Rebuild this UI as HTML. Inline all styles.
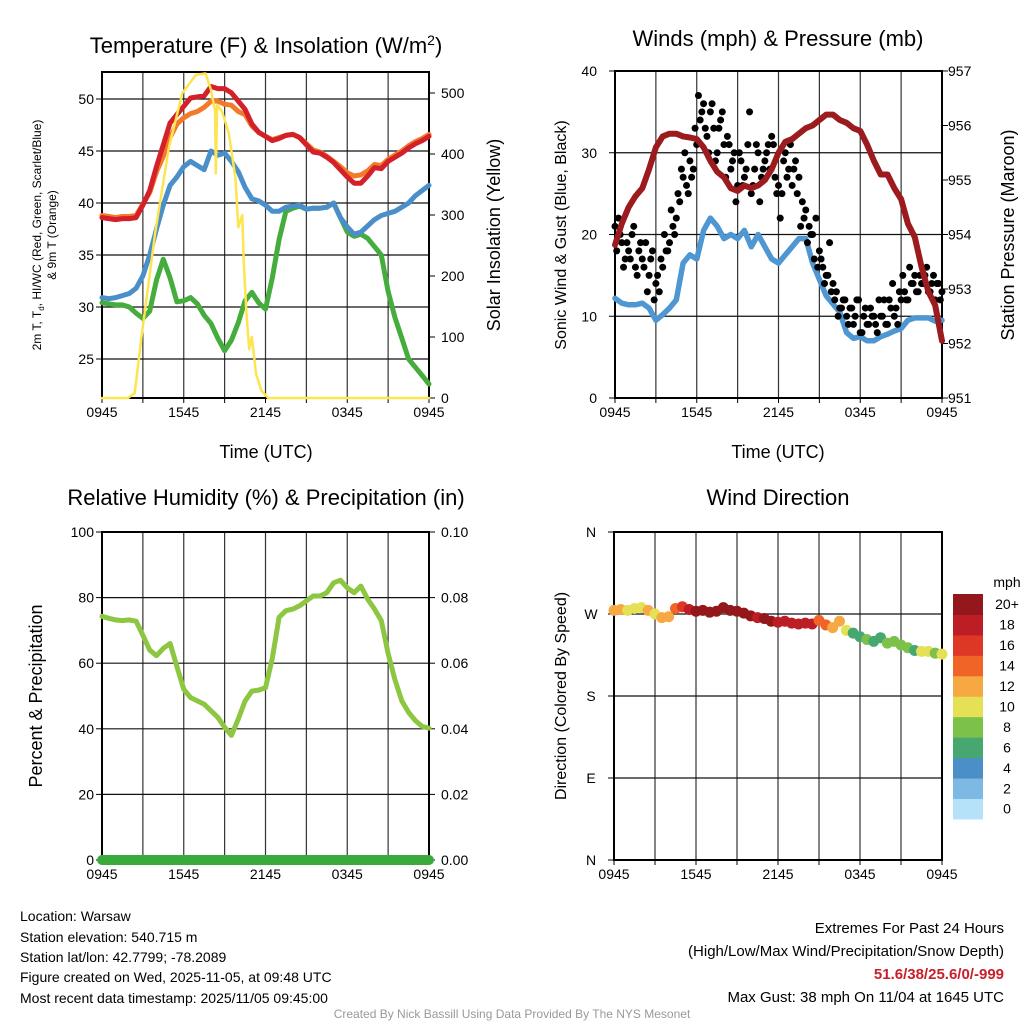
<!DOCTYPE html>
<html><head><meta charset="utf-8"><style>
body{margin:0;background:#fff;}
svg{display:block;font-family:"Liberation Sans",Arial,sans-serif;}
</style></head><body>
<svg id="s" width="1024" height="1024" viewBox="0 0 1024 1024" xmlns="http://www.w3.org/2000/svg">
<rect width="1024" height="1024" fill="#fff"/>
<text x="266" y="53" font-size="22" text-anchor="middle">Temperature (F) &amp; Insolation (W/m<tspan dy="-8" font-size="14">2</tspan><tspan dy="8">)</tspan></text>
<text x="778" y="46" font-size="22" text-anchor="middle">Winds (mph) &amp; Pressure (mb)</text>
<text x="266" y="505" font-size="22" text-anchor="middle">Relative Humidity (%) &amp; Precipitation (in)</text>
<text x="778" y="505" font-size="22" text-anchor="middle">Wind Direction</text>
<text x="266" y="458" font-size="18" text-anchor="middle">Time (UTC)</text>
<text x="778" y="458" font-size="18" text-anchor="middle">Time (UTC)</text>
<text transform="translate(41,235) rotate(-90)" font-size="12" text-anchor="middle">2m T, T<tspan font-size="8" dy="3">d</tspan><tspan dy="-3">, HI/WC (Red, Green, Scarlet/Blue)</tspan></text>
<text transform="translate(56,235) rotate(-90)" font-size="12" text-anchor="middle">&amp; 9m T (Orange)</text>
<text transform="translate(500,235) rotate(-90)" font-size="18" text-anchor="middle">Solar Insolation (Yellow)</text>
<text transform="translate(566,235) rotate(-90)" font-size="16" text-anchor="middle">Sonic Wind &amp; Gust (Blue, Black)</text>
<text transform="translate(1014,235) rotate(-90)" font-size="18" text-anchor="middle">Station Pressure (Maroon)</text>
<text transform="translate(42,696) rotate(-90)" font-size="18" text-anchor="middle">Percent &amp; Precipitation</text>
<text transform="translate(566,696) rotate(-90)" font-size="16" text-anchor="middle">Direction (Colored By Speed)</text>
<g font-size="14">
<text x="20" y="921">Location: Warsaw</text>
<text x="20" y="942">Station elevation: 540.715 m</text>
<text x="20" y="962">Station lat/lon: 42.7799; -78.2089</text>
<text x="20" y="982">Figure created on Wed, 2025-11-05, at 09:48 UTC</text>
<text x="20" y="1003">Most recent data timestamp: 2025/11/05 09:45:00</text>
</g>
<g font-size="15" text-anchor="end">
<text x="1004" y="933">Extremes For Past 24 Hours</text>
<text x="1004" y="956">(High/Low/Max Wind/Precipitation/Snow Depth)</text>
<text x="1004" y="979" fill="#c8202a" font-weight="bold">51.6/38/25.6/0/-999</text>
<text x="1004" y="1002">Max Gust: 38 mph On 11/04 at 1645 UTC</text>
</g>
<text x="512" y="1018" font-size="12" fill="#999" text-anchor="middle">Created By Nick Bassill Using Data Provided By The NYS Mesonet</text>
<g id="g"></g>
</svg>
<script>
// ---- data ----
const timeLabels = ["0945","1545","2145","0345","0945"];
const tempTicks = [25,30,35,40,45,50];
const solarTicks = [0,100,200,300,400,500];
const windTicks = [0,10,20,30,40];
const presTicks = [951,952,953,954,955,956,957];
const rhTicks = [0,20,40,60,80,100];
const precipTicks = ["0.00","0.02","0.04","0.06","0.08","0.10"];
const dirTicks = ["N","E","S","W","N"];
const cbLabels = ["0","2","4","6","8","10","12","14","16","18","20+"];
const cbColors = ["#b5e2f8","#7db9e3","#4a8fc7","#47a771","#7cc24a","#e6e057","#f6a843","#f06428","#de3726","#bd1d24","#93171b"];
const tempRed = [38.6,38.5,38.4,38.5,38.5,38.6,39.8,41.2,43.5,45.6,47.7,48.5,49.3,50.1,50.2,50.3,51.2,51.0,51.0,50.6,49.8,49.0,47.6,46.8,46.4,46.0,46.2,46.5,46.6,46.3,45.6,44.9,44.8,44.4,43.9,43.2,42.5,41.9,41.9,42.6,43.4,43.3,44.0,44.4,44.8,45.3,45.7,46.0,46.4];
const tempOrange = [38.8,38.7,38.6,38.7,38.7,38.8,39.9,41.0,43.0,44.5,46.3,47.6,48.2,48.6,48.8,49.2,49.8,49.8,49.5,49.4,48.8,48.5,47.4,46.8,46.4,46.1,46.3,46.5,46.6,46.3,45.7,45.1,44.9,44.5,44.0,43.5,42.9,42.6,42.7,43.1,43.7,43.6,44.2,44.6,45.0,45.5,45.9,46.2,46.6];
const tempBlue = [30.9,30.8,30.9,31.1,31.3,31.8,33.0,35.0,37.5,39.8,41.7,42.5,43.5,44.0,43.6,43.2,45.0,44.6,44.8,44.0,43.0,41.5,40.4,40.2,39.8,39.2,39.2,39.6,39.7,39.8,39.4,39.5,39.5,39.6,40.0,38.6,37.7,37.0,37.2,37.8,38.4,38.8,39.0,39.2,39.6,40.0,40.7,41.2,41.7];
const tempGreen = [30.4,30.3,30.2,30.2,30.0,29.4,28.9,29.6,32.6,34.6,32.8,30.5,30.6,30.9,30.3,29.2,28.4,27.0,25.8,26.8,28.5,30.6,31.4,30.4,29.8,32.8,36.5,39.2,39.5,39.7,39.4,39.5,39.5,39.6,40.0,38.6,37.2,36.8,37.0,36.6,35.8,35.0,31.5,29.0,27.0,25.0,24.2,23.4,22.6];
const solarHours = [0,1.9,2.4,2.9,3.9,4.9,5.9,6.9,7.6,8.0,8.3,8.35,8.45,8.8,9.3,9.8,10.0,10.3,10.4,10.6,10.8,11.0,11.3,11.7,12.2,24];
const solarVals = [0,0,8,100,270,410,500,530,532,505,470,368,480,470,435,360,280,300,225,140,80,100,40,12,0,0];
const windSpd = [12.2,11.6,11.4,11.4,11.6,11.0,9.5,10.2,11.0,12.0,16.5,17.5,17.0,20.5,22.0,21.0,19.5,20.0,19.5,20.5,18.5,20.0,18.5,17.0,16.5,17.5,18.5,19.5,19.5,16.5,14.5,12.5,11.5,10.5,8.0,7.3,7.5,7.0,7.0,7.5,7.8,8.2,8.5,9.5,9.8,9.8,9.8,9.4,9.5];
const pressure = [953.81,954.2,954.5,954.7,954.85,955.2,955.6,955.8,955.85,955.85,955.8,955.78,955.75,955.6,955.35,955.15,955.05,954.85,954.8,954.9,954.85,954.9,955.0,955.2,955.5,955.7,955.75,955.85,955.95,956.0,956.1,956.2,956.2,956.1,956.05,955.95,955.9,955.65,955.35,955.1,955.1,954.85,954.65,954.2,953.95,953.4,952.95,952.7,952.05];
const gustQuarter = [21, 22,19,17,18, 20,16,18,17, 19,15,18,14, 13,16,18,19, 21,22,24,27, 26,29,28,31, 34,36,32,35, 33,30,34,31, 32,28,30,26, 29,27,31,25, 28,30,27,29, 31,32,27,26, 25,30,28,26, 29,27,24,23, 21,20,22,18, 16,15,19,14, 13,11,12,10, 11,9,12,8, 10,9,11,10, 8,10,12,9, 11,10,9,12, 13,12,14,15, 13,14,15,13, 14,12,14,13];
const gustMid = [18,20,16,19, 17,21,15,19, 16,13,17,12, 15,17,20,18, 23,20,25,28, 30,25,27,33, 37,35,33,30, 36,29,33,35, 27,31,29,24, 30,26,28,35, 26,31,24,28, 30,28,31,25, 22,29,27,31, 28,25,21,22, 19,20,17,16, 17,14,15,13, 12,10,11,12, 9,11,10,12, 8,11,9,10, 9,12,10,9, 12,14,11,13, 15,12,16,14, 13,15,14,16, 13,15,14,12];
const rh = [74.3,73.7,73.2,73.0,73.2,72.8,68.5,64.0,62.3,64.5,66.0,59,52,49.5,48.5,47.5,45.5,43.5,40.5,38,43,48.5,51.5,51.8,52.5,61.5,74,76,76.5,77.5,79,80.5,80.5,81.5,84.5,85.3,83.0,81.5,83.5,79.5,76.5,73.0,63.0,55.0,48.5,45.0,42.5,40.7,40.2];
const precip = [0,0,0,0,0,0,0,0,0,0,0,0,0,0,0,0,0,0,0,0,0,0,0,0,0,0,0,0,0,0,0,0,0,0,0,0,0,0,0,0,0,0,0,0,0,0,0,0,0];
const windDir = [274,275,274,276,277,274,270,266,267,276,278,275,273,274,272,273,277,274,273,271,268,266,265,262,261,262,260,259,260,259,263,258,255,262,252,249,245,242,240,244,238,240,236,233,230,229,229,227,226];
const dirSpeed = [12.5,13,11,10.5,11,12.5,10.5,13,12.5,14,16,19,21,21,22,21,21,22,21,20,21,19,21,20,19,19,18,19,18,19,15,14,12,13,10,6,7,8,7,6.5,8,9,8,8,7,10,10.5,9,10];

// ---- helpers ----
const NS="http://www.w3.org/2000/svg";
const G=document.getElementById('g');
function mk(tag,attrs,parent){const e=document.createElementNS(NS,tag);for(const k in attrs)e.setAttribute(k,attrs[k]);(parent||G).appendChild(e);return e;}
function hr(i){return i*0.5;}
function panel(L,T,W,H){return {L,T,W,H,x:h=>L+h*W/24};}
const P1=panel(102,72,327,326), P2=panel(615,71,327,327), P3=panel(102,532,327,328), P4=panel(614,532,328,328);
const yT=t=>398-(t-21.25)*10.4, yS=w=>398-w*0.61;
const yW=v=>398-v*8.175, yP=p=>398-(p-951)*54.5;
const yR=r=>860-r*3.28, yPr=v=>860-v*3280, yD=d=>860-d*328/360;

function frame(P,name,hLines){
  const g=mk('g',{});
  
  
  for(let k=1;k<8;k++){const x=P.x(k*3);mk('line',{x1:x,y1:P.T,x2:x,y2:P.T+P.H,stroke:'#333','stroke-width':1.2},g);}
  hLines.forEach(y=>mk('line',{x1:P.L,y1:y,x2:P.L+P.W,y2:y,stroke:'#111','stroke-width':1.2},g));
  for(let k=0;k<=8;k++){const x=P.x(k*3);mk('line',{x1:x,y1:P.T+P.H,x2:x,y2:P.T+P.H+5,stroke:'#000'},g);}
  const r=mk('rect',{x:P.L,y:P.T,width:P.W,height:P.H,fill:'none',stroke:'#000','stroke-width':2});
  
  
  timeLabels.forEach((l,k)=>{const t=mk('text',{x:P.x(k*6),y:P.T+P.H+19,'font-size':14,'text-anchor':'middle'});t.textContent=l;
    
    });
}
function ylabels(vals,fy,x,anchor,P,tick){
  vals.forEach(v=>{const y=fy(v);
    const t=mk('text',{x:x,y:y+5,'font-size':14,'text-anchor':anchor});t.textContent=v;
    
    
    if(tick==='L')mk('line',{x1:P.L-6,y1:y,x2:P.L,y2:y,stroke:'#000'});
    if(tick==='R')mk('line',{x1:P.L+P.W,y1:y,x2:P.L+P.W+6,y2:y,stroke:'#000'});
  });
}
function line(arr,fx,fy,color,w,name,op){
  const d=arr.map((v,i)=>(i?'L':'M')+fx(i).toFixed(1)+','+fy(v).toFixed(1)).join('');
  const p=mk('path',{d:d,fill:'none',stroke:color,'stroke-width':w,'stroke-linejoin':'round','stroke-linecap':'round',opacity:op||1});
  
  
  return p;
}

// ---- panel 1 ----
frame(P1,'temperature',tempTicks.map(yT));
ylabels(tempTicks,yT,94,'end',P1,'L');
ylabels(solarTicks,yS,441,'start',P1,'R');
line(tempGreen,i=>P1.x(hr(i)),yT,'#44ad3c',5,'dewpoint-line');
line(tempBlue,i=>P1.x(hr(i)),yT,'#4a8fc9',5,'windchill-line');
line(tempOrange,i=>P1.x(hr(i)),yT,'#f37a2b',5,'temp-9m-line');
line(tempRed,i=>P1.x(hr(i)),yT,'#d42028',5,'temp-2m-line');
line(solarVals,i=>P1.x(solarHours[i]),yS,'#fde451',2.5,'solar-line');

// ---- panel 2 ----
frame(P2,'wind',windTicks.map(yW));
ylabels(windTicks,yW,597,'end',P2,'L');
ylabels(presTicks,yP,948,'start',P2,'R');
line(windSpd,i=>P2.x(hr(i)),yW,'#4f97d2',5.5,'wind-speed-line');
gustQuarter.forEach((v,i)=>{const c=mk('circle',{cx:P2.x(i*0.25),cy:yW(v),r:3.5,fill:'#000'});
  
  });
gustMid.forEach((v,i)=>{const c=mk('circle',{cx:P2.x(i*0.25+0.125),cy:yW(v),r:3.5,fill:'#000'});
  
  });
line(pressure,i=>P2.x(hr(i)),yP,'#9b1b1e',6,'pressure-line');

// ---- panel 3 ----
frame(P3,'humidity',rhTicks.map(yR));
ylabels(rhTicks,yR,94,'end',P3,'L');
precipTicks.forEach(v=>{const y=yPr(parseFloat(v));const t=mk('text',{x:441,y:y+5,'font-size':14});t.textContent=v;
  
  
  mk('line',{x1:P3.L+P3.W,y1:y,x2:P3.L+P3.W+6,y2:y,stroke:'#000'});});
line(rh,i=>P3.x(hr(i)),yR,'#8dc641',5,'humidity-line');
line(precip,i=>P3.x(hr(i)),yPr,'#3aaa3c',10,'precipitation-line');

// ---- panel 4 ----
frame(P4,'direction',[90,180,270].map(yD));
dirTicks.forEach((l,k)=>{const y=yD(k*90);const t=mk('text',{x:591,y:y+5,'font-size':14,'text-anchor':'middle'});t.textContent=l;
  
  
  mk('line',{x1:P4.L-6,y1:y,x2:P4.L,y2:y,stroke:'#000'});});
function spdColor(s){return cbColors[Math.min(10,Math.max(0,Math.floor(s/2)))];}
windDir.forEach((d,i)=>{const c=mk('circle',{cx:P4.x(hr(i)),cy:yD(d),r:5.5,fill:spdColor(dirSpeed[i])});
  
  });
// colorbar
const cbT=594,cbH=20.45;
cbColors.forEach((c,k)=>{const y=cbT+(10-k)*cbH;
  const r=mk('rect',{x:953,y:y,width:30,height:cbH+0.5,fill:c});
  
  
  const t=mk('text',{x:1007,y:y+cbH/2+5,'font-size':14,'text-anchor':'middle'});t.textContent=cbLabels[k];
  
  });
const mph=mk('text',{x:1007,y:587,'font-size':14,'text-anchor':'middle'});mph.textContent='mph';


</script>
</body></html>
